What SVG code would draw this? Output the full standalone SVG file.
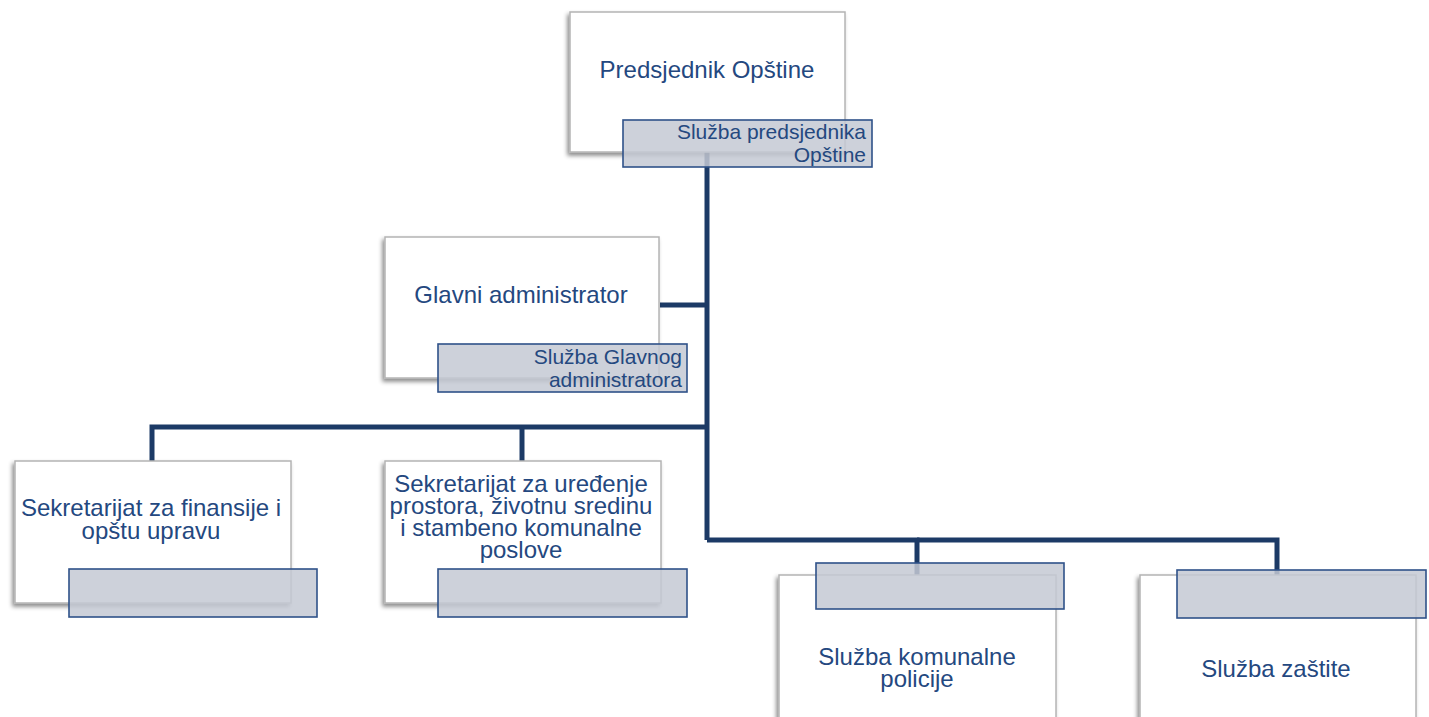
<svg xmlns="http://www.w3.org/2000/svg" width="1429" height="717" viewBox="0 0 1429 717">
<defs>
<filter id="sh" x="-10%" y="-10%" width="120%" height="130%">
<feDropShadow dx="-2" dy="3" stdDeviation="2" flood-color="#000" flood-opacity="0.45"/>
</filter>
<style>
.box{fill:#fff;stroke:#b4b4b4;stroke-width:1.5;filter:url(#sh)}
.lab{fill:#c4c9d4;fill-opacity:0.85;stroke:#2f5289;stroke-width:1.6}
.t{font-family:"Liberation Sans",Arial,sans-serif;font-size:24px;fill:#24487f;text-anchor:middle}
.s{font-family:"Liberation Sans",Arial,sans-serif;font-size:21px;fill:#24487f;text-anchor:end}
.c{fill:none;stroke:#1c3a66;stroke-width:5;stroke-linejoin:miter}
</style>
</defs>
<rect width="1429" height="717" fill="#fff"/>
<g id="connectors">
<path class="c" d="M707,152 V540"/>
<path class="c" d="M660,305 H707"/>
<path class="c" d="M152,461 V427 H707"/>
<path class="c" d="M522,461 V427"/>
<path class="c" d="M707,540 H917 V575"/>
<path class="c" d="M917,540 H1277 V575"/>
</g>
<g id="n-predsjednik">
<rect class="box" x="570" y="12" width="275" height="140"/>
<text class="t" x="707" y="78">Predsjednik Opštine</text>
<rect class="lab" x="623" y="120" width="249" height="47"/>
<text class="s" x="866" y="139">Služba predsjednika</text>
<text class="s" x="866" y="162">Opštine</text>
</g>
<g id="n-glavni">
<rect class="box" x="385" y="237" width="274" height="141"/>
<text class="t" x="521" y="303">Glavni administrator</text>
<rect class="lab" x="438" y="344" width="249" height="48"/>
<text class="s" x="682" y="364">Služba Glavnog</text>
<text class="s" x="682" y="387">administratora</text>
</g>
<g id="n-finansije">
<rect class="box" x="15" y="461" width="276" height="142"/>
<text class="t" x="151" y="516">Sekretarijat za finansije i</text>
<text class="t" x="151" y="539">opštu upravu</text>
<rect class="lab" x="69" y="569" width="248" height="48"/>
</g>
<g id="n-uredjenje">
<rect class="box" x="385" y="461" width="276" height="142"/>
<text class="t" x="521" y="492">Sekretarijat za uređenje</text>
<text class="t" x="521" y="514">prostora, životnu sredinu</text>
<text class="t" x="521" y="536">i stambeno komunalne</text>
<text class="t" x="521" y="558">poslove</text>
<rect class="lab" x="438" y="569" width="249" height="48"/>
</g>
<g id="n-komunalna">
<rect class="box" x="779" y="575" width="277" height="150"/>
<text class="t" x="917" y="665">Služba komunalne</text>
<text class="t" x="917" y="687">policije</text>
<rect class="lab" x="816" y="563" width="248" height="46"/>
</g>
<g id="n-zastita">
<rect class="box" x="1140" y="575" width="276" height="150"/>
<text class="t" x="1276" y="677">Služba zaštite</text>
<rect class="lab" x="1177" y="570" width="249" height="48"/>
</g>
</svg>
